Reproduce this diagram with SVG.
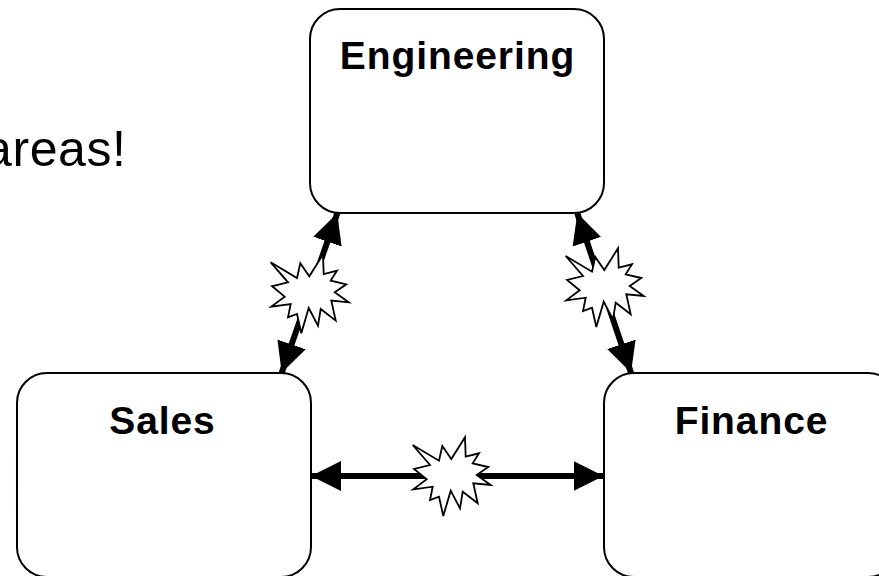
<svg xmlns="http://www.w3.org/2000/svg" width="879" height="576" viewBox="0 0 879 576">
<style>
.box{fill:#fff;stroke:#000;stroke-width:2}
.lbl{font-family:"Liberation Sans",Arial,sans-serif;font-weight:700;font-size:39px;letter-spacing:.9px;text-anchor:middle;fill:#000}
.cap{font-family:"Liberation Sans",Arial,sans-serif;font-size:50px;letter-spacing:.6px;fill:#000}
.conn{stroke:#000;stroke-width:6;fill:none;marker-start:url(#ah);marker-end:url(#ah)}
.star{fill:#fff;stroke:#000;stroke-width:1.8}
</style>
<defs>
<marker id="ah" markerUnits="userSpaceOnUse" markerWidth="32" markerHeight="32" refX="30" refY="15" orient="auto-start-reverse"><path d="M0 0L30 15L0 30Z" fill="#000"/></marker>
<path id="burst" d="M412.7 445L439 460.7L442.3 446L451.3 459L465 437.3L465.7 456.7L479 453.3L472.7 463.3L488.3 467L476.7 475L490.7 485L473.3 483.3L477.7 503.3L462.7 491.7L460 508.3L450.7 490.7L443.3 516L439 496.7L430 500L432.7 486.7L413.3 489.3L426.7 479.3L414 469L430 465Z"/>
</defs>
<text class="cap" x="-16" y="166">areas!</text>
<g id="engineering"><rect class="box" x="310" y="9" width="294" height="204" rx="30"/><text class="lbl" x="457.5" y="69">Engineering</text></g>
<g id="sales"><rect class="box" x="17" y="373" width="294" height="204" rx="30"/><text class="lbl" x="162.5" y="434">Sales</text></g>
<g id="finance"><rect class="box" x="604" y="373" width="294" height="204" rx="30"/><text class="lbl" x="751.5" y="434">Finance</text></g>
<g id="connectors">
<line class="conn" x1="281.7" y1="372.7" x2="337.3" y2="213.3"/>
<line class="conn" x1="631" y1="372.7" x2="577.3" y2="213.3"/>
<line class="conn" x1="311" y1="476" x2="603.5" y2="476"/>
</g>
<g id="bursts">
<use class="star" href="#burst" transform="translate(-142,-182.7)"/>
<use class="star" href="#burst" transform="translate(153,-189)"/>
<use class="star" href="#burst"/>
</g>
</svg>
